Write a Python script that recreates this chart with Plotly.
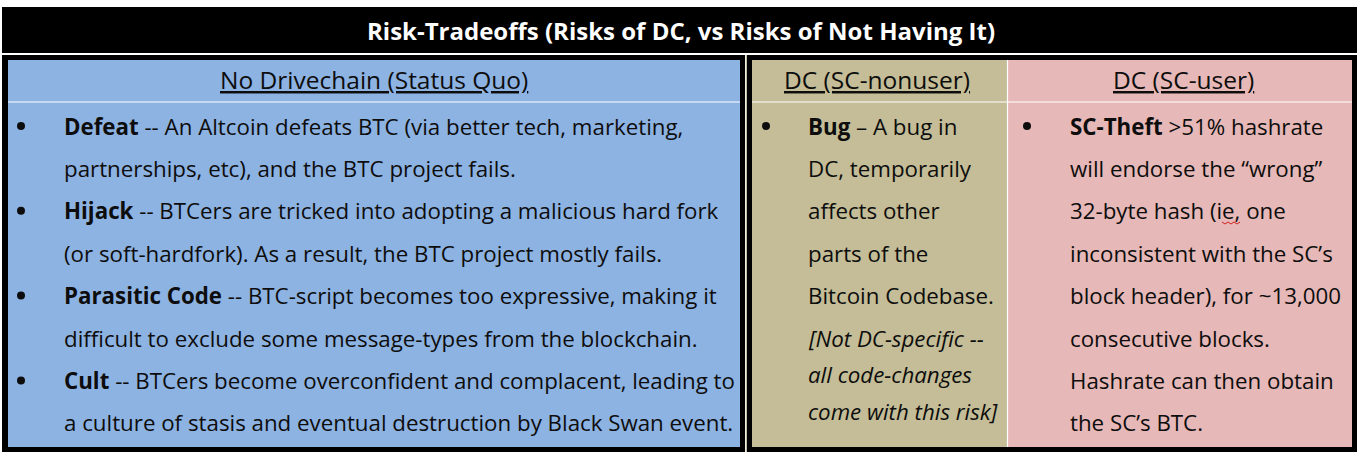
import plotly.graph_objects as go

W, H = 1363, 459

title = "Risk-Tradeoffs (Risks of DC, vs Risks of Not Having It)"
headers = ["No Drivechain (Status Quo)", "DC (SC-nonuser)", "DC (SC-user)"]
col_colors = ["#8db3e2", "#c4bd97", "#e6b8b7"]

left_lines = [
    "<b>Defeat</b> -- An Altcoin defeats BTC (via better tech, marketing,",
    "partnerships, etc), and the BTC project fails.",
    "<b>Hijack</b> -- BTCers are tricked into adopting a malicious hard fork",
    "(or soft-hardfork). As a result, the BTC project mostly fails.",
    "<b>Parasitic Code</b> -- BTC-script becomes too expressive, making it",
    "difficult to exclude some message-types from the blockchain.",
    "<b>Cult</b> -- BTCers become overconfident and complacent, leading to",
    "a culture of stasis and eventual destruction by Black Swan event.",
]
left_bullets = [0, 2, 4, 6]

mid_lines = [
    "<b>Bug</b> \u2013 A bug in",
    "DC, temporarily",
    "affects other",
    "parts of the",
    "Bitcoin Codebase.",
    "<i>[Not DC-specific --</i>",
    "<i>all code-changes</i>",
    "<i>come with this risk]</i>",
]
mid_bullets = [0]

right_lines = [
    "<b>SC-Theft</b> >51% hashrate",
    "will endorse the \u201cwrong\u201d",
    "32-byte hash (ie, one",
    "inconsistent with the SC\u2019s",
    "block header), for ~13,000",
    "consecutive blocks.",
    "Hashrate can then obtain",
    "the SC\u2019s BTC.",
]
right_bullets = [0]

# layout geometry (pixels)
first_y = 126
gap = 42.4
italic_gap = 36.5
body_font = dict(family="Open Sans", size=22.3, color="#0d0d0d")


def line_y(i, italic_from=None):
    if italic_from is None or i <= italic_from:
        return first_y + gap * i
    return first_y + gap * italic_from + italic_gap * (i - italic_from)


fig = go.Figure()
shapes = []
# title bar
shapes.append(dict(type="rect", x0=2, x1=1357, y0=7, y1=53, fillcolor="black", line_width=0))
# outer black boxes
shapes.append(dict(type="rect", x0=2, x1=745, y0=55, y1=452, fillcolor="black", line_width=0))
shapes.append(dict(type="rect", x0=746.5, x1=1357, y0=55, y1=452, fillcolor="black", line_width=0))
# coloured cells
cells = [(8, 740), (752, 1007), (1008, 1352)]
for (a, b), c in zip(cells, col_colors):
    shapes.append(dict(type="rect", x0=a, x1=b, y0=60, y1=447, fillcolor=c, line_width=0))
# header separators
for a, b in cells:
    shapes.append(dict(type="line", x0=a, x1=b, y0=102, y1=102, line=dict(color="white", width=1.2)))
shapes.append(dict(type="line", x0=1007.5, x1=1007.5, y0=60, y1=447, line=dict(color="white", width=1.2)))
shapes.append(dict(type="line", x0=745.8, x1=745.8, y0=55, y1=452, line=dict(color="#f4efd8", width=1.5)))
# spell-check squiggle under "ie"
shapes.append(dict(type="path", path="M 1222 222 L 1225 224 L 1228 222 L 1231 224 L 1234 222 L 1237 224 L 1240 222",
                   line=dict(color="#d02020", width=1)))
for s in shapes:
    s["layer"] = "below"

annotations = [
    dict(x=681, y=30, text="<b>" + title + "</b>", showarrow=False, xanchor="center", yanchor="middle",
         font=dict(family="Open Sans", size=24, color="white")),
]
header_x = [374, 877, 1183]
for hx, h in zip(header_x, headers):
    annotations.append(dict(x=hx, y=79, text="<u>" + h + "</u>", showarrow=False, xanchor="center",
                            yanchor="middle", font=dict(family="Open Sans", size=24.5, color="#0d0d0d")))

columns = [
    (left_lines, left_bullets, 21, 62, None),
    (mid_lines, mid_bullets, 766, 806, 5),
    (right_lines, right_bullets, 1027, 1068, None),
]
bx, by = [], []
for lines, bullets, bullet_x, text_x, italic_from in columns:
    for i, t in enumerate(lines):
        y = line_y(i, italic_from)
        annotations.append(dict(x=text_x, y=y, text=t, showarrow=False, xanchor="left", yanchor="middle",
                                font=body_font))
    for i in bullets:
        bx.append(bullet_x)
        by.append(line_y(i, italic_from))

fig.add_trace(go.Scatter(x=bx, y=by, mode="markers", marker=dict(size=8, color="#0d0d0d"),
                         hoverinfo="skip", showlegend=False))

fig.update_layout(
    width=W, height=H, margin=dict(l=0, r=0, t=0, b=0),
    paper_bgcolor="white", plot_bgcolor="rgba(0,0,0,0)",
    shapes=shapes, annotations=annotations, showlegend=False,
    xaxis=dict(range=[0, W], visible=False, fixedrange=True),
    yaxis=dict(range=[H, 0], visible=False, fixedrange=True),
)
fig.write_html("out.html", config={"displayModeBar": False},
               post_script="document.body.style.margin='0';")
